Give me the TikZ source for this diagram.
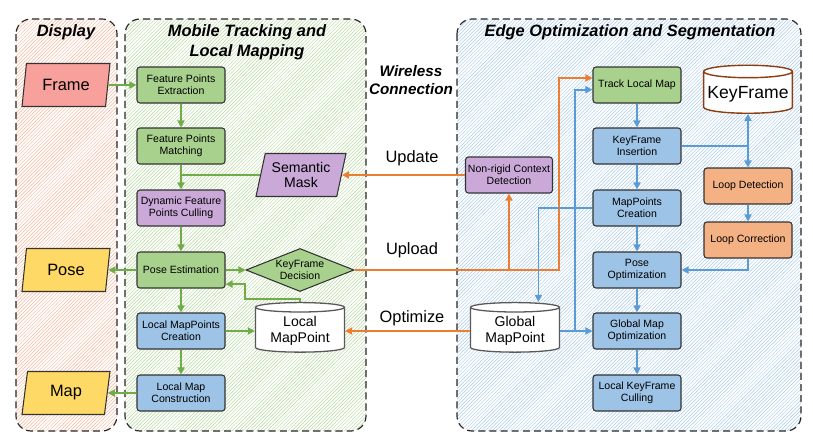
\documentclass[tikz,border=0pt]{standalone}
\usepackage{fontspec}
\setmainfont{Liberation Sans}
\usetikzlibrary{shapes.geometric,arrows.meta,patterns}

\definecolor{boxgreen}{HTML}{A9D18E}
\definecolor{boxblue}{HTML}{9DC3E6}
\definecolor{boxpurple}{HTML}{CAA9D8}
\definecolor{boxorange}{HTML}{F4B183}
\definecolor{framered}{HTML}{F8A09C}
\definecolor{ioyellow}{HTML}{FFD966}
\definecolor{lineg}{HTML}{70AD47}
\definecolor{lineo}{HTML}{ED7D31}
\definecolor{lineb}{HTML}{5B9BD5}
\definecolor{kfbrown}{HTML}{8B3E12}
\definecolor{hatcho}{HTML}{F5B79C}
\definecolor{hatchg}{HTML}{B5D89E}
\definecolor{hatchb}{HTML}{A9CBEA}

\begin{document}
\begin{tikzpicture}[x=0.03cm, y=-0.03cm,
  >={Triangle[length=6pt,width=6pt]},
  proc/.style={draw=black!80, line width=0.9pt, rounded corners=2.5pt,
    minimum width=2.64cm, minimum height=1.08cm, inner sep=1pt,
    align=center, font=\fontsize{9}{10.5}\selectfont},
  io/.style={trapezium, trapezium left angle=72, trapezium right angle=108,
    trapezium stretches body, draw=black!80, line width=0.9pt,
    minimum width=2.64cm, minimum height=1.29cm, inner sep=1pt, align=center},
  store/.style={cylinder, shape border rotate=90, aspect=0.14, draw=black!65,
    line width=1.1pt, fill=white, minimum width=2.67cm, minimum height=1.47cm,
    align=center, font=\fontsize{12}{13.5}\selectfont},
  panel/.style={draw=black!85, dash pattern=on 6pt off 3.5pt, line width=1pt,
    rounded corners=0.45cm},
  title/.style={font=\fontsize{14}{17}\selectfont\bfseries\itshape, align=center},
  link/.style={font=\fontsize{14}{16}\selectfont},
  garrow/.style={draw=lineg, line width=1.4pt},
  oarrow/.style={draw=lineo, line width=1.4pt},
  barrow/.style={draw=lineb, line width=1.4pt}]
  \useasboundingbox (0,0) rectangle (813,445);

  % panels
  \draw[panel, pattern=north east lines, pattern color=hatcho] (16,19) rectangle (117,431);
  \draw[panel, pattern=north east lines, pattern color=hatchg] (125,19) rectangle (366,431);
  \draw[panel, pattern=north east lines, pattern color=hatchb] (457,19) rectangle (801,431);

  \node (displaytitle) at (66,32)  [title] {Display};
  \node (mobiletitle)  at (247,42) [title] {Mobile Tracking and\\Local Mapping};
  \node (edgetitle)    at (630,32) [title] {Edge Optimization and Segmentation};
  \node (wireless)     at (411,80) [title, font=\fontsize{13}{16}\selectfont\bfseries\itshape] {Wireless\\Connection};

  % display
  \node (frame) at (66,85)  [io, fill=framered, font=\fontsize{14}{16}\selectfont] {Frame};
  \node (pose)  at (66,270) [io, fill=ioyellow, font=\fontsize{14}{16}\selectfont] {Pose};
  \node (map)   at (66,393) [io, fill=ioyellow, font=\fontsize{14}{16}\selectfont] {Map};

  % mobile side
  \node (fpextract) at (181,85)  [proc, fill=boxgreen]  {Feature Points\\Extraction};
  \node (fpmatch)   at (181,146) [proc, fill=boxgreen]  {Feature Points\\Matching};
  \node (dyncull)   at (181,208) [proc, fill=boxpurple] {Dynamic Feature\\Points Culling};
  \node (poseest)   at (181,270) [proc, fill=boxgreen]  {Pose Estimation};
  \node (lmpcreate) at (181,331) [proc, fill=boxblue]   {Local MapPoints\\Creation};
  \node (lmconstr)  at (181,393) [proc, fill=boxblue]   {Local Map\\Construction};
  \node (semmask)   at (301,175) [io, fill=boxpurple, minimum width=2.7cm,
    font=\fontsize{12}{13.5}\selectfont] {Semantic\\Mask};
  \node (kfdecide)  at (300,270) [diamond, aspect=2.5, draw=black!80, line width=0.9pt,
    fill=boxgreen, minimum width=3.24cm, minimum height=1.29cm, inner sep=0pt,
    align=center, font=\fontsize{9}{10.5}\selectfont] {KeyFrame\\Decision};
  \node (localmp)   at (300,331) [store] {Local\\MapPoint};

  % edge side
  \node (tracklm)  at (637,85)  [proc, fill=boxgreen] {Track Local Map};
  \node (kfinsert) at (637,146) [proc, fill=boxblue]  {KeyFrame\\Insertion};
  \node (mpcreate) at (637,208) [proc, fill=boxblue]  {MapPoints\\Creation};
  \node (poseopt)  at (637,270) [proc, fill=boxblue]  {Pose\\Optimization};
  \node (gmopt)    at (637,331) [proc, fill=boxblue]  {Global Map\\Optimization};
  \node (lkfcull)  at (637,393) [proc, fill=boxblue]  {Local KeyFrame\\Culling};
  \node (keyframe) at (748,94)  [store, draw=kfbrown, line width=1.2pt, minimum width=2.64cm,
    minimum height=1.44cm, font=\fontsize{15}{17}\selectfont] {KeyFrame};
  \node (loopdet)  at (748,186) [proc, fill=boxorange] {Loop Detection};
  \node (loopcorr) at (748,240) [proc, fill=boxorange] {Loop Correction};
  \node (nonrigid) at (509,175) [proc, fill=boxpurple, minimum width=2.61cm] {Non-rigid Context\\Detection};
  \node (globalmp) at (515,331) [store] {Global\\MapPoint};

  % wireless labels
  \node (update)   at (412,158) [link] {Update};
  \node (upload)   at (412,250) [link] {Upload};
  \node (optimize) at (412,318) [link] {Optimize};

  \coordinate (lmpbend) at (245,299);
  \coordinate (upbend)  at (559,270);
  \coordinate (optbend) at (575,331);
  \coordinate (kfsplit) at (748,146);

  % mobile connectors
  \draw[garrow,->] (frame.east) -- (fpextract.west);
  \draw[garrow,->] (fpextract) -- (fpmatch);
  \draw[garrow,->] (fpmatch) -- (dyncull);
  \draw[garrow] (semmask.west) -- (semmask.west -| dyncull.north);
  \draw[garrow,->] (dyncull) -- (poseest);
  \draw[garrow,->] (poseest.west) -- (pose.east);
  \draw[garrow,->] (poseest) -- (kfdecide);
  \draw[garrow,->] (poseest) -- (lmpcreate);
  \draw[garrow,->] (lmpcreate) -- (localmp);
  \draw[garrow,->] (lmpcreate) -- (lmconstr);
  \draw[garrow,->] (lmconstr.west) -- (map.east);
  \draw[garrow,->] (localmp.north) |- (lmpbend) |- ([yshift=-12pt]poseest.east);

  % wireless connectors
  \draw[oarrow,->] (nonrigid.west) -- (semmask.east);
  \draw[oarrow,->] (kfdecide.east) -- (upbend) |- ([yshift=6pt]tracklm.west);
  \draw[oarrow,->] (nonrigid.south |- kfdecide.east) -- (nonrigid.south);
  \draw[oarrow,->] (globalmp.west) -- (localmp.east);

  % edge connectors
  \draw[barrow,->] (tracklm) -- (kfinsert);
  \draw[barrow,->] (kfinsert) -- (mpcreate);
  \draw[barrow,->] (mpcreate) -- (poseopt);
  \draw[barrow,->] (poseopt) -- (gmopt);
  \draw[barrow,->] (gmopt) -- (lkfcull);
  \draw[barrow] (kfinsert.east) -- (kfsplit);
  \draw[barrow,->] (kfsplit) -- (keyframe.south);
  \draw[barrow,->] (kfsplit) -- (loopdet.north);
  \draw[barrow,->] (loopdet) -- (loopcorr);
  \draw[barrow,->] (loopcorr.south) |- (poseopt.east);
  \draw[barrow,->] (globalmp.east) -- (gmopt.west);
  \draw[barrow,->] (optbend) |- ([yshift=-4pt]tracklm.west);
  \draw[barrow,->] (mpcreate.west) -| ([xshift=20pt]globalmp.north);
\end{tikzpicture}
\end{document}
